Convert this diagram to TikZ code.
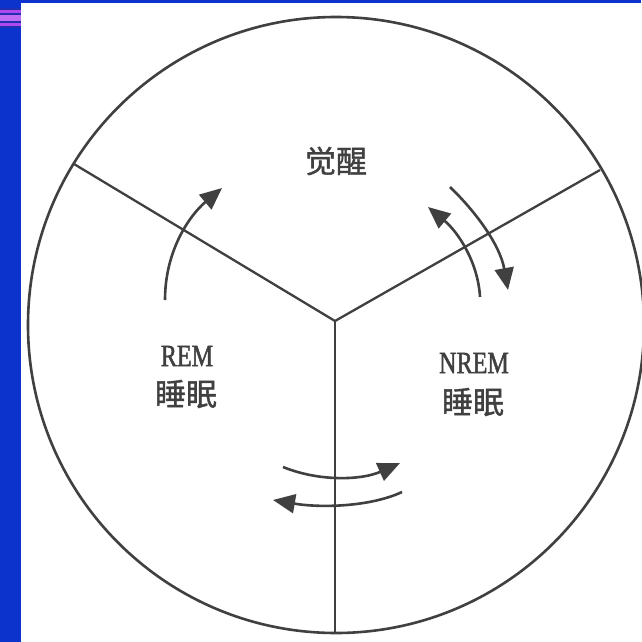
\documentclass[tikz,border=0pt]{standalone}
\usepackage{fontspec}
\newfontfamily\cjk[FakeBold=1.2]{Noto Sans CJK SC}
\newfontfamily\condserif[FakeStretch=0.78,FakeBold=1.5]{Liberation Serif}
\usetikzlibrary{arrows.meta}
\definecolor{ink}{HTML}{404040}
\definecolor{sideblue}{HTML}{0C34CC}
\definecolor{stripe}{HTML}{B048F0}
\definecolor{stripedark}{HTML}{2030B0}
\begin{document}
\begin{tikzpicture}[x=1pt,y=-1pt,
  divider/.style={draw=ink,line width=2.3pt},
  flow/.style={draw=ink,line width=2.6pt,-{Triangle[length=22pt,width=19pt]}},
  cjklabel/.style={font=\cjk\fontsize{31}{34}\selectfont,text=ink,inner sep=0pt},
  latlabel/.style={font=\condserif\fontsize{31}{34}\selectfont,text=ink,inner sep=0pt}]
\useasboundingbox (0,0) rectangle (641,642);
\fill[white] (0,0) rectangle (641,642);
% frame
\fill[sideblue] (0,0) rectangle (21,642);
\fill[sideblue] (0,0) rectangle (641,3);
\fill[stripedark] (0,8) rectangle (21,28);
\fill[stripe] (0,10) rectangle (21,13);
\fill[stripe!80!white] (0,15) rectangle (21,21);
\fill[stripe] (0,23) rectangle (21,26);
% circle
\coordinate (c) at (336,325);
\draw[ink,line width=2.6pt] (c) circle[radius=308];
\coordinate (y) at (335,321);
\coordinate (yl) at (74,164);
\coordinate (yr) at (600,170);
\coordinate (yb) at (335,633);
\draw[divider] (y) -- (yl);
\draw[divider] (y) -- (yr);
\draw[divider] (y) -- (yb);
% labels
\node[cjklabel] (wake) at (336,161) {觉醒};
\node[latlabel] (rem) at (187,356) {REM};
\node[cjklabel] (remsleep) at (186,394) {睡眠};
\node[latlabel] (nrem) at (474,363) {NREM};
\node[cjklabel] (nremsleep) at (473,402) {睡眠};
% arrows
\coordinate (a1s) at (165,300); \coordinate (a1e) at (222,188);
\draw[flow] (a1s) .. controls (165,250) and (190,215) .. (a1e);
\coordinate (a2s) at (480,297); \coordinate (a2e) at (428,207);
\draw[flow] (a2s) .. controls (478,262) and (458,232) .. (a2e);
\coordinate (a3s) at (450,187); \coordinate (a3e) at (508,290);
\draw[flow] (a3s) .. controls (476,212) and (500,245) .. (a3e);
\coordinate (a4s) at (283,467); \coordinate (a4e) at (400,463);
\draw[flow] (a4s) .. controls (320,482) and (362,480) .. (a4e);
\coordinate (a5s) at (402,492); \coordinate (a5e) at (273,500);
\draw[flow] (a5s) .. controls (370,507) and (320,508) .. (a5e);
\end{tikzpicture}
\end{document}
